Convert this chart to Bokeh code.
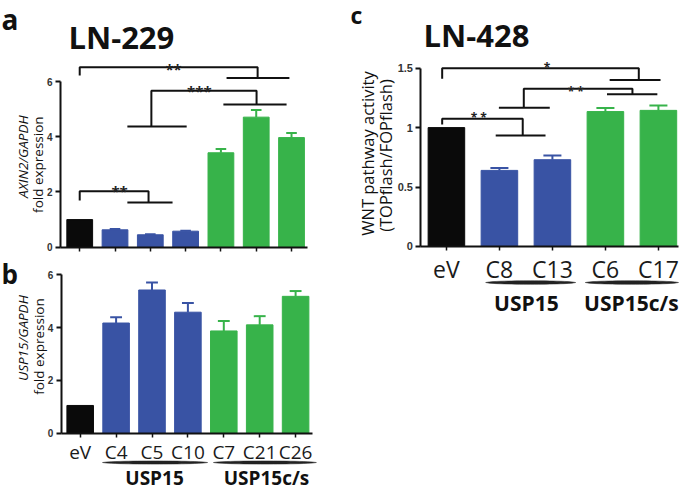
import numpy as np
from bokeh.plotting import figure
from bokeh.models import LinearAxis, FixedTicker, Range1d
from bokeh.layouts import row, column
from bokeh.embed import file_html
from bokeh.resources import INLINE
from bokeh.core.properties import value

# ---------------- data ----------------
ab_labels = ["eV", "C4", "C5", "C10", "C7", "C21", "C26"]
ab_groups = ["eV", "USP15", "USP15", "USP15", "USP15c/s", "USP15c/s", "USP15c/s"]
a_values = [1.0, 0.63, 0.45, 0.58, 3.42, 4.71, 3.97]      # AXIN2/GAPDH
a_errors = [0.0, 0.03, 0.02, 0.02, 0.14, 0.26, 0.17]
b_values = [1.05, 4.17, 5.42, 4.58, 3.87, 4.10, 5.18]     # USP15/GAPDH
b_errors = [0.0, 0.22, 0.28, 0.35, 0.38, 0.33, 0.20]
c_labels = ["eV", "C8", "C13", "C6", "C17"]
c_groups = ["eV", "USP15", "USP15", "USP15c/s", "USP15c/s"]
c_values = [1.0, 0.64, 0.73, 1.135, 1.145]                # TOPflash/FOPflash
c_errors = [0.0, 0.02, 0.035, 0.03, 0.04]
ab_ticks = [0, 2, 4, 6]
c_ticks = [0.0, 0.5, 1.0, 1.5]

GROUP_COLORS = {"eV": "#0a0a0a", "USP15": "#3953a4", "USP15c/s": "#37b34a"}

# significance brackets: (x_left, y_left_end, x_right, y_right_end, y_top, left_bar, right_bar, label, label_x, label_y)
a_brackets = [
    (0.0, 6.22, 5.04, 6.13, 6.52, None, (4.16, 5.94), "**", 2.66, 6.45),
    (2.03, 4.37, 5.01, 5.17, 5.67, (1.35, 3.03), (4.07, 5.86), "***", 3.39, 5.66),
    (0.0, 1.69, 1.95, 1.62, 2.03, None, (1.35, 2.63), "**", 1.13, 2.03),
]
c_brackets = [
    (-0.08, 1.41, 3.63, 1.40, 1.50, None, (3.08, 4.04), "*", 1.90, 1.505),
    (1.46, 1.166, 3.51, 1.28, 1.326, (0.99, 1.95), (3.03, 3.98), "* *", 2.44, 1.30),
    (-0.08, 1.027, 1.44, 0.934, 1.074, None, (0.93, 1.87), "* *", 0.61, 1.085),
]

FONT = "Open Sans"
NUMFONT = "Liberation Sans"
INK = "#111111"


def make_fig(w, h, xr, yr):
    p = figure(width=w, height=h, x_range=Range1d(*xr), y_range=Range1d(*yr),
               output_backend="svg", toolbar_location=None,
               x_axis_location=None, y_axis_location=None, min_border=0,
               outline_line_color=None)
    p.grid.visible = False
    p.background_fill_color = "white"
    p.border_fill_color = "white"
    return p


def txt(p, x, y, s, size, style="normal", align="center", baseline="alphabetic",
        angle=0.0, font=FONT, color=INK):
    p.text(x=[x], y=[y], text=[s], text_font=value(font), text_font_size=f"{size}px",
           text_font_style=style, text_align=align, text_baseline=baseline,
           angle=angle, text_color=color)


def bars(p, vals, errs, groups, width, cap):
    xs = list(range(len(vals)))
    cols = [GROUP_COLORS[g] for g in groups]
    p.vbar(x=xs, top=vals, bottom=0, width=width, fill_color=cols, line_color=cols, line_width=1)
    tops = [v + e for v, e in zip(vals, errs)]
    ex = [x for x, e in zip(xs, errs) if e > 0]
    ev = [v for v, e in zip(vals, errs) if e > 0]
    et = [t for t, e in zip(tops, errs) if e > 0]
    ec = [c for c, e in zip(cols, errs) if e > 0]
    p.segment(x0=ex, y0=ev, x1=ex, y1=et, line_color=ec, line_width=2)
    p.segment(x0=[x - cap / 2 for x in ex], y0=et, x1=[x + cap / 2 for x in ex], y1=et,
              line_color=ec, line_width=2)


def axes(p, yloc, yticks, ybounds, n, xend, labels, xfs, ylab_fs, xstand):
    yax = LinearAxis(fixed_location=yloc, ticker=FixedTicker(ticks=yticks, minor_ticks=[]),
                     bounds=ybounds)
    yax.axis_line_width = 2
    yax.axis_line_color = INK
    yax.major_tick_line_width = 2
    yax.major_tick_line_color = INK
    yax.major_tick_out = 5
    yax.major_tick_in = 0
    yax.minor_tick_out = 0
    yax.minor_tick_in = 0
    yax.major_label_text_font = NUMFONT
    yax.major_label_text_font_style = "bold"
    yax.major_label_text_font_size = f"{ylab_fs}px"
    yax.major_label_text_color = "#333333"
    yax.major_label_standoff = 3
    p.add_layout(yax, "left")

    cats = list(range(n))
    if labels is None:
        # tick marks only, no labels
        xax = LinearAxis(fixed_location=0, ticker=FixedTicker(ticks=[], minor_ticks=cats),
                         bounds=(yloc, xend))
        xax.minor_tick_out = 4
        xax.minor_tick_in = 0
        xax.minor_tick_line_width = 1.5
        xax.minor_tick_line_color = INK
    else:
        xax = LinearAxis(fixed_location=0, ticker=FixedTicker(ticks=cats, minor_ticks=[]),
                         bounds=(yloc, xend))
        xax.major_tick_line_width = 1.5
        xax.major_tick_line_color = INK
        xax.major_tick_out = 4
        xax.major_tick_in = 0
        xax.minor_tick_out = 0
        xax.minor_tick_in = 0
        xax.major_label_overrides = {i: lab for i, lab in enumerate(labels)}
        xax.major_label_text_font = FONT
        xax.major_label_text_font_size = f"{xfs}px"
        xax.major_label_text_color = "#1a1a1a"
        xax.major_label_standoff = xstand
    xax.axis_line_width = 2
    xax.axis_line_color = INK
    p.add_layout(xax, "below")


def brackets(p, blist, fs):
    for (xl, yl, xr, yr, yt, lb, rb, lab, lx, ly) in blist:
        p.line(x=[xl, xl, xr, xr], y=[yl, yt, yt, yr], line_color=INK, line_width=2)
        for bar, yy in ((lb, yl), (rb, yr)):
            if bar is not None:
                p.line(x=[bar[0], bar[1]], y=[yy, yy], line_color=INK, line_width=2)
        txt(p, lx, ly, lab, fs, style="bold", font=FONT, color="#222222")


def underline(p, x1, x2, y, t):
    u = np.linspace(0, 1, 25)
    xs = x1 + (x2 - x1) * u
    th = t * np.sin(np.pi * u) ** 0.5
    px = np.concatenate([xs, xs[::-1]])
    py = np.concatenate([y + th / 2, (y - th / 2)[::-1]])
    p.patch(x=list(px), y=list(py), fill_color="#222222", line_color="#222222", line_width=0.5)


# ---------------- panel a ----------------
pa = make_fig(344, 252, (-2.244, 7.501), (-0.192, 8.935))
bars(pa, a_values, a_errors, ab_groups, 0.73, 0.30)
axes(pa, -0.544, ab_ticks, (0, 6), len(a_values), 6.45, None, 0, 10, 0)
brackets(pa, a_brackets, 15)
txt(pa, -2.215, 8.26, "a", 28, style="bold", align="left")
txt(pa, 1.18, 7.60, "LN-229", 31, style="bold")
txt(pa, -1.62, 3.28, "AXIN2/GAPDH", 13.5, style="italic", baseline="middle", angle=np.pi / 2)
txt(pa, -1.195, 2.99, "fold expression", 13.5, baseline="middle", angle=np.pi / 2)

# ---------------- panel b ----------------
pb = make_fig(344, 235, (-2.22, 7.362), (-2.055, 6.839))
bars(pb, b_values, b_errors, ab_groups, 0.74, 0.33)
axes(pb, -0.529, ab_ticks, (0, 6), len(b_values), 6.47, ab_labels, 19, 10, 2)
txt(pb, -2.192, 6.02, "b", 26, style="bold", align="left")
txt(pb, -1.607, 3.60, "USP15/GAPDH", 13.5, style="italic", baseline="middle", angle=np.pi / 2)
txt(pb, -1.134, 3.28, "fold expression", 13.5, baseline="middle", angle=np.pi / 2)
underline(pb, 0.62, 3.55, -1.11, 0.12)
underline(pb, 3.71, 6.58, -1.11, 0.12)
txt(pb, 2.07, -1.71, "USP15", 19, style="bold")
txt(pb, 5.19, -1.71, "USP15c/s", 19, style="bold")

# ---------------- panel c ----------------
pc = make_fig(335, 487, (-1.923, 4.398), (-2.027, 2.069))
bars(pc, c_values, c_errors, c_groups, 0.69, 0.34)
axes(pc, -0.48, c_ticks, (0, 1.5), len(c_values), 4.38, c_labels, 23, 11, 3)
brackets(pc, c_brackets, 12)
txt(pc, -1.81, 1.943, "c", 23, style="bold", align="left")
txt(pc, 0.568, 1.775, "LN-428", 31, style="bold")
txt(pc, -1.489, 0.782, "WNT pathway activity", 16.5, baseline="middle", angle=np.pi / 2)
txt(pc, -1.149, 0.765, "(TOPflash/FOPflash)", 16.5, baseline="middle", angle=np.pi / 2)
underline(pc, 0.74, 2.44, -0.303, 0.030)
underline(pc, 2.62, 4.38, -0.303, 0.030)
txt(pc, 1.51, -0.479, "USP15", 21, style="bold")
txt(pc, 3.49, -0.479, "USP15c/s", 21, style="bold")

layout = row(column(pa, pb), pc)
open("out.html", "w").write(file_html(layout, INLINE))
